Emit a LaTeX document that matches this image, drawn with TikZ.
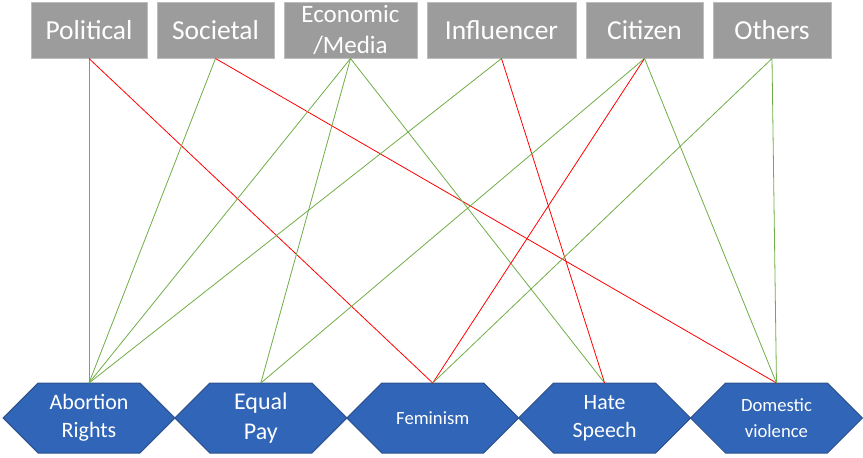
\documentclass[tikz,border=0pt]{standalone}
\usepackage{fontspec}
\setmainfont{Carlito}
\usetikzlibrary{positioning}
\usetikzlibrary{shapes}
\usetikzlibrary{chains}

\definecolor{boxgray}{HTML}{9C9C9C}
\definecolor{boxedge}{HTML}{BDBDBD}
\definecolor{hexblue}{HTML}{3065B8}
\definecolor{hexedge}{HTML}{2F528F}
\definecolor{linkgreen}{HTML}{70AD47}
\definecolor{linkred}{HTML}{FF0000}

\begin{document}
\begin{tikzpicture}[
    start chain=going right,    % actors run left-to-right along the top
    node distance=6.75pt,       % gap between the grey boxes
    ]
% -------------------------------------------------
\tikzset{
  base/.style={align=center, text=white, inner sep=0pt},
  actor/.style={base, on chain, rectangle, fill=boxgray, draw=boxedge, line width=0.75pt,
    minimum height=42pt, font=\fontsize{20.6}{24}\selectfont},
  topic/.style={base, signal, signal to=west and east, signal pointer angle=90, outer sep=0pt,
    fill=hexblue, draw=hexedge, line width=0.75pt, minimum width=128.9pt, minimum height=52.5pt},
  linkpos/.style={draw=linkgreen, line width=0.6pt},
  linkneg/.style={draw=linkred, line width=0.6pt}
}

\useasboundingbox (0,0) rectangle (647.25pt,-342.75pt);

% actors
\node [actor, minimum width=87pt, at={(66.75pt,-22.5pt)}] (pol) {Political};
\node [actor, minimum width=87.75pt] (soc) {Societal};
\node [actor, minimum width=99.75pt, font=\fontsize{18.75}{23}\selectfont] (eco) {Economic\\/Media};
\node [actor, minimum width=111.75pt] (inf) {Influencer};
\node [actor, minimum width=87.75pt] (cit) {Citizen};
\node [actor, minimum width=88.5pt] (oth) {Others};

% topics
\node [topic, font=\fontsize{16.5}{21}\selectfont, at={(66.75pt,-313.5pt)}] (abo) {Abortion\\Rights};
\node [topic, font=\fontsize{18}{23}\selectfont, right=0pt of abo] (pay) {Equal\\Pay};
\node [topic, font=\fontsize{14}{18}\selectfont, right=0pt of pay] (fem) {Feminism};
\node [topic, font=\fontsize{16.4}{21}\selectfont, right=0pt of fem] (hat) {Hate\\Speech};
\node [topic, font=\fontsize{14}{19}\selectfont, right=0pt of hat] (dom) {Domestic\\violence};

\path [linkpos] (pol.south) -- (abo.north);
\path [linkneg] (pol.south) -- (fem.north);
\path [linkpos] (soc.south) -- (abo.north);
\path [linkneg] (soc.south) -- (dom.north);
\path [linkpos] (eco.south) -- (abo.north);
\path [linkpos] (eco.south) -- (pay.north);
\path [linkpos] (eco.south) -- (hat.north);
\path [linkpos] (inf.south) -- (abo.north);
\path [linkneg] (inf.south) -- (hat.north);
\path [linkpos] (cit.south) -- (pay.north);
\path [linkneg] (cit.south) -- (fem.north);
\path [linkpos] (cit.south) -- (dom.north);
\path [linkpos] (oth.south) -- (fem.north);
\path [linkpos] (oth.south) -- (dom.north);

\end{tikzpicture}
\end{document}
